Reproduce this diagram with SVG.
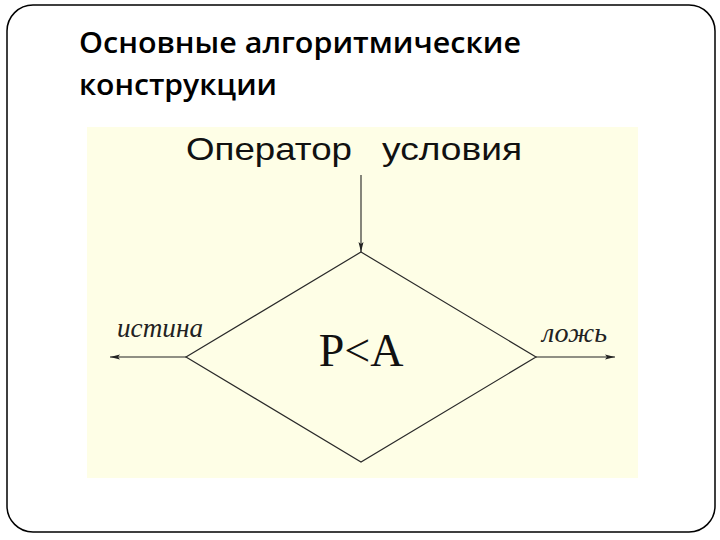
<svg xmlns="http://www.w3.org/2000/svg" width="720" height="540" viewBox="0 0 720 540">
  <defs>
    <marker id="arr" viewBox="0 0 10 6" refX="10" refY="3" markerWidth="10" markerHeight="6" markerUnits="userSpaceOnUse" orient="auto">
      <path d="M0,0.5 L10,3 L0,5.5 L2,3 Z" fill="#222"/>
    </marker>
    <style>
      .title { font-family: "Open Sans", "Noto Sans", "DejaVu Sans", sans-serif; font-weight: 600; font-size: 29px; fill: #000; }
      .head { font-family: "Liberation Sans", Arial, sans-serif; font-size: 32px; fill: #111; }
      .lbl { font-family: "Liberation Serif", "Times New Roman", serif; font-style: italic; font-size: 27px; fill: #222; }
      .cond { font-family: "Liberation Serif", "Times New Roman", serif; font-size: 46px; fill: #111; }
      .line { stroke: #222; stroke-width: 1.1; fill: none; }
    </style>
  </defs>
  <rect x="0" y="0" width="720" height="540" fill="#fff"/>
  <rect x="7" y="5" width="708" height="527" rx="26" ry="26" fill="#fff" stroke="#000" stroke-width="1.5"/>
  <text class="title" x="79" y="53" textLength="442" lengthAdjust="spacingAndGlyphs">Основные алгоритмические</text>
  <text class="title" x="79" y="95" textLength="198" lengthAdjust="spacingAndGlyphs">конструкции</text>
  <rect x="87" y="127" width="551" height="351" fill="#FEFEE6"/>
  <g id="heading">
    <text class="head" x="186" y="160" textLength="166" lengthAdjust="spacingAndGlyphs">Оператор</text>
    <text class="head" x="382" y="160" textLength="140" lengthAdjust="spacingAndGlyphs">условия</text>
  </g>
  <g id="condition">
    <polygon points="361,252 536,357 361,462 186,357" fill="none" stroke="#2a2a2a" stroke-width="1.2"/>
    <text class="cond" x="361" y="366" text-anchor="middle">P&lt;A</text>
  </g>
  <g id="connectors">
    <line class="line" x1="361" y1="175" x2="361" y2="252" marker-end="url(#arr)"/>
    <line class="line" x1="186" y1="357" x2="110" y2="357" marker-end="url(#arr)"/>
    <line class="line" x1="536" y1="357" x2="615" y2="357" marker-end="url(#arr)"/>
  </g>
  <text class="lbl" x="117" y="337" textLength="86" lengthAdjust="spacingAndGlyphs">истина</text>
  <text class="lbl" x="542" y="342" textLength="65" lengthAdjust="spacingAndGlyphs">ложь</text>
</svg>
